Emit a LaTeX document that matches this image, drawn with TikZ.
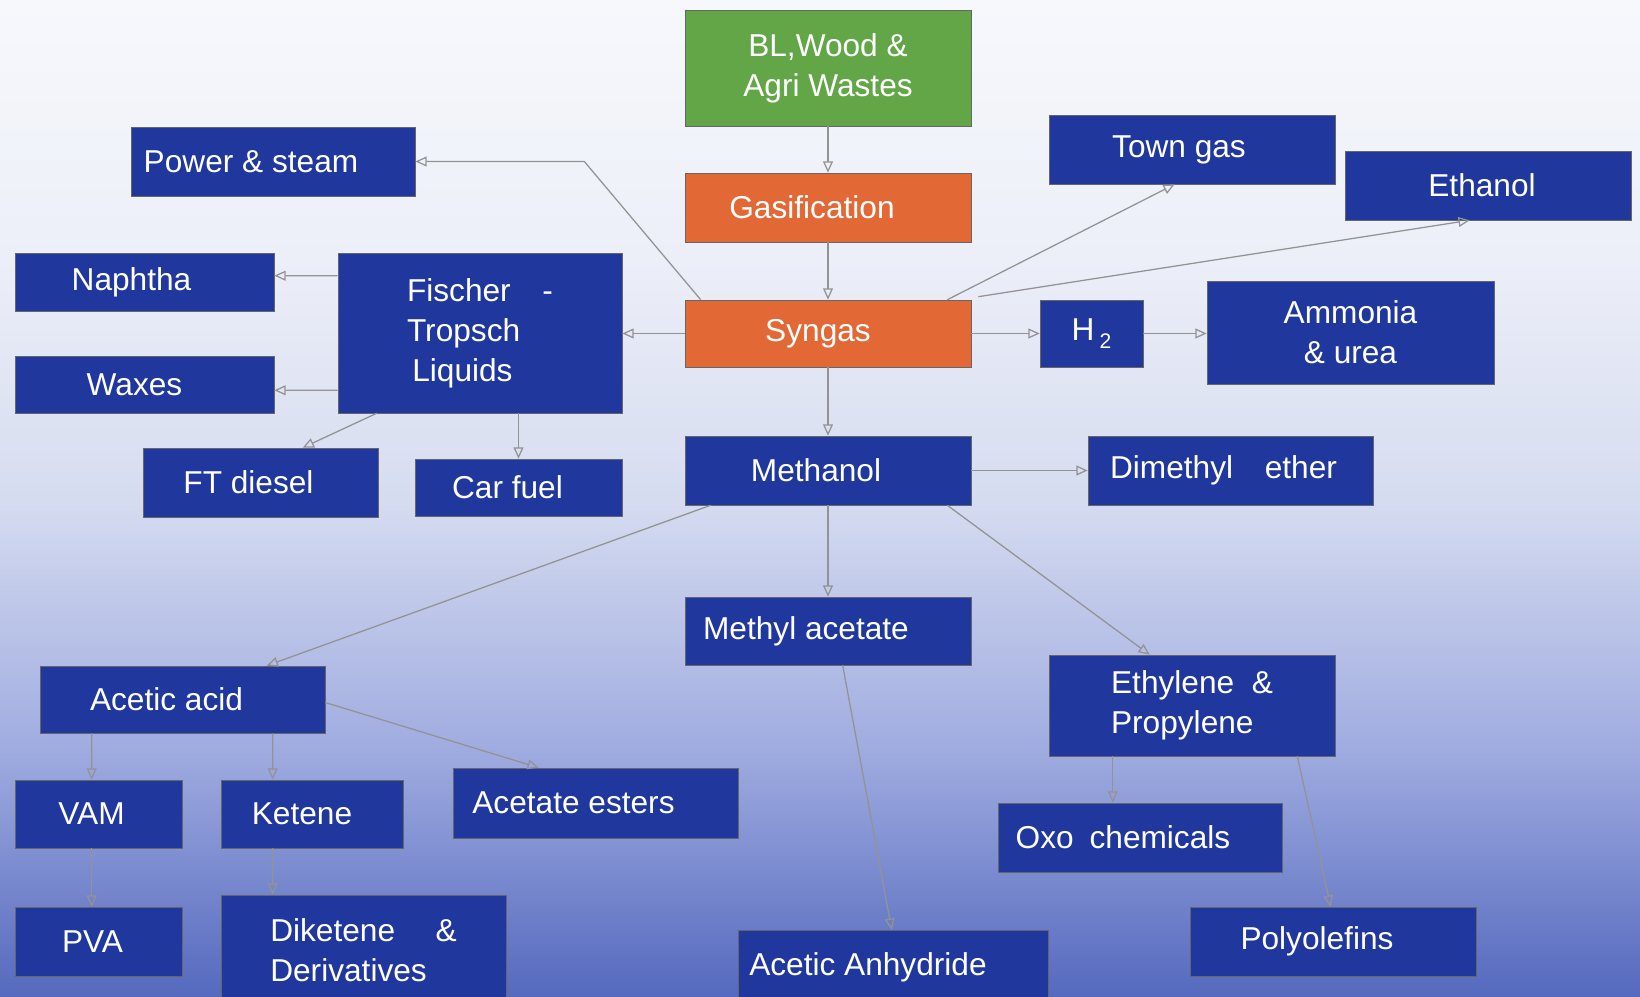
\documentclass[tikz,border=0pt]{standalone}
\usepackage{fontspec}
\setmainfont{Liberation Sans}
\usepackage{tikz}
\usetikzlibrary{arrows.meta, positioning, calc}

\definecolor{boxblue}{RGB}{32,56,158}
\definecolor{boxgreen}{RGB}{98,166,72}
\definecolor{boxorange}{RGB}{226,104,54}
\definecolor{bgtop}{RGB}{247,248,252}
\definecolor{bgup}{RGB}{236,239,248}
\definecolor{bgmid}{RGB}{214,220,240}
\definecolor{bglow}{RGB}{160,172,224}
\definecolor{bgbot}{RGB}{85,105,190}
\pgfdeclareverticalshading{sky}{100bp}{color(0bp)=(bgbot); color(25bp)=(bgbot); color(37.5bp)=(bglow); color(50bp)=(bgmid); color(62bp)=(bgup); color(75bp)=(bgtop); color(100bp)=(bgtop)}

\begin{document}
\begin{tikzpicture}[x=0.025cm, y=-0.025cm,
    box/.style={draw=black!60, line width=0.4pt, fill=boxblue, text=white, align=center,
        inner sep=0pt, minimum width=7.15cm, minimum height=1.725cm,
        font=\fontsize{22.5}{28.5}\selectfont},
    textleft/.style={execute at end node={\hspace*{#1}}},
    flow/.style={draw=gray!85, line width=0.9pt, -{Triangle[open, length=8pt, width=7pt]}}]

    % background
    \shade[shading=sky] (0,0) rectangle (1640,997);
    \useasboundingbox (0,0) rectangle (1640,997);
    \clip (0,0) rectangle (1640,997);

    % main line
    \node[box, fill=boxgreen, minimum height=2.9cm] (feed) at (828,68) {BL,Wood \&\\Agri Wastes};
    \node[box, fill=boxorange, textleft=0.8cm] (gasif) at (828,207.5) {Gasification};
    \node[box, fill=boxorange, minimum height=1.675cm, textleft=0.5cm] (syngas) at (828,333.5) {Syngas};
    \node[box, textleft=0.6cm] (methanol) at (828,470.5) {Methanol};
    \node[box, minimum height=1.7cm, textleft=1.1cm] (methylac) at (828,631) {Methyl acetate};

    % Fischer-Tropsch side
    \node[box, minimum width=7.1cm, textleft=1.1cm] (power) at (273,161.5) {Power \& steam};
    \node[box, minimum width=7.1cm, minimum height=4cm, align=left] (ft) at (480,333) {Fischer\quad -\\Tropsch\\\,Liquids};
    \node[box, minimum width=6.475cm, minimum height=1.45cm, textleft=0.65cm] (naphtha) at (144.5,282) {Naphtha};
    \node[box, minimum width=6.475cm, minimum height=1.425cm, textleft=0.5cm] (waxes) at (144.5,384.5) {Waxes};
    \node[box, minimum width=5.875cm, textleft=0.6cm] (ftdiesel) at (260.5,482.5) {FT diesel};
    \node[box, minimum width=5.175cm, minimum height=1.425cm, textleft=0.55cm] (carfuel) at (518.5,487.5) {Car fuel};

    % gas side
    \node[box, textleft=0.65cm] (towngas) at (1192,149.5) {Town gas};
    \node[box, textleft=0.3cm] (ethanol) at (1488,185.5) {Ethanol};
    \node[box, minimum width=2.575cm, minimum height=1.675cm] (hydrogen) at (1091.5,333.5) {H\,\raisebox{-0.45ex}{\fontsize{15}{15}\selectfont 2}};
    \node[box, minimum width=7.175cm, minimum height=2.575cm] (ammonia) at (1350.5,332.5) {Ammonia\\\& urea};
    \node[box, minimum width=7.125cm, textleft=0.35cm] (dme) at (1230.5,470.5) {Dimethyl\quad ether};

    % acetic acid branch
    \node[box, minimum width=7.125cm, minimum height=1.675cm, textleft=0.8cm] (acetic) at (182.5,699.5) {Acetic acid};
    \node[box, minimum width=4.175cm, minimum height=1.7cm, textleft=0.35cm] (vam) at (98.5,814) {VAM};
    \node[box, minimum width=4.55cm, minimum height=1.7cm, textleft=0.5cm] (ketene) at (312,814) {Ketene};
    \node[box, minimum width=7.125cm, minimum height=1.75cm, textleft=1.1cm] (esters) at (595.5,803) {Acetate esters};
    \node[box, minimum width=4.175cm, textleft=0.3cm] (pva) at (98.5,941.5) {PVA};
    \node[box, minimum width=7.125cm, minimum height=2.75cm, align=left] (diketene) at (363.5,950) {Diketene\quad\ \&\\Derivatives};
    \node[box, minimum width=7.75cm, minimum height=1.875cm, textleft=1.25cm] (anhydride) at (893,967.5) {Acetic Anhydride};

    % olefins branch
    \node[box, minimum height=2.525cm, align=left] (olefins) at (1192,705.5) {Ethylene \ \&\\Propylene};
    \node[box, minimum width=7.1cm, textleft=0.85cm] (oxo) at (1140,837.5) {Oxo\enspace chemicals};
    \node[box, textleft=0.8cm] (polyolef) at (1333,941.5) {Polyolefins};

    % connectors
    \draw[flow] (feed) -- (gasif);
    \draw[flow] (gasif) -- (syngas);
    \draw[flow] (syngas) -- (methanol);
    \draw[flow] (methanol) -- (methylac);
    \draw[flow] (syngas.west) -- (syngas.west -| ft.east);
    \draw[flow] ($(syngas.north west)+(16,0)$) -- ($(power.east)+(169,0)$) -- (power.east);
    \draw[flow] ($(syngas.north east)+(-24,0)$) -- ($(towngas.south west)+(126,0)$);
    \draw[flow] ($(syngas.north east)+(7,-3)$) -- ($(ethanol.south west)+(125,0)$);
    \draw[flow] (syngas) -- (hydrogen);
    \draw[flow] (hydrogen.east) -- (hydrogen.east -| ammonia.west);

    \draw[flow] ($(ft.north west)+(0,23)$) -- ($(naphtha.north east)+(0,23)$);
    \draw[flow] ($(ft.south west)+(0,-23)$) -- ($(waxes.south east)+(0,-23)$);
    \draw[flow] ($(ft.south west)+(39,0)$) -- ($(ftdiesel.north west)+(160,0)$);
    \draw[flow] (carfuel.north |- ft.south) -- (carfuel.north);

    \draw[flow] (methanol) -- (dme);
    \draw[flow] ($(methanol.south west)+(26,0)$) -- ($(acetic.north west)+(227,0)$);
    \draw[flow] ($(methanol.south east)+(-24,0)$) -- ($(olefins.north west)+(101,0)$);
    \draw[flow] ($(methylac.south west)+(158,0)$) -- ($(anhydride.north west)+(154,0)$);

    \draw[flow] ($(acetic.south west)+(52,0)$) -- ($(vam.north west)+(77,0)$);
    \draw[flow] ($(acetic.south west)+(233,0)$) -- ($(ketene.north west)+(52,0)$);
    \draw[flow] ($(acetic.east)+(0,3)$) -- ($(esters.north west)+(86,0)$);
    \draw[flow] ($(vam.south west)+(77,0)$) -- ($(pva.north west)+(77,0)$);
    \draw[flow] ($(ketene.south west)+(52,0)$) -- ($(diketene.north west)+(52,0)$);
    \draw[flow] ($(olefins.south west)+(64,0)$) -- ($(oxo.north west)+(115,0)$);
    \draw[flow] ($(olefins.south east)+(-38,0)$) -- ($(polyolef.north west)+(141,0)$);
\end{tikzpicture}
\end{document}
